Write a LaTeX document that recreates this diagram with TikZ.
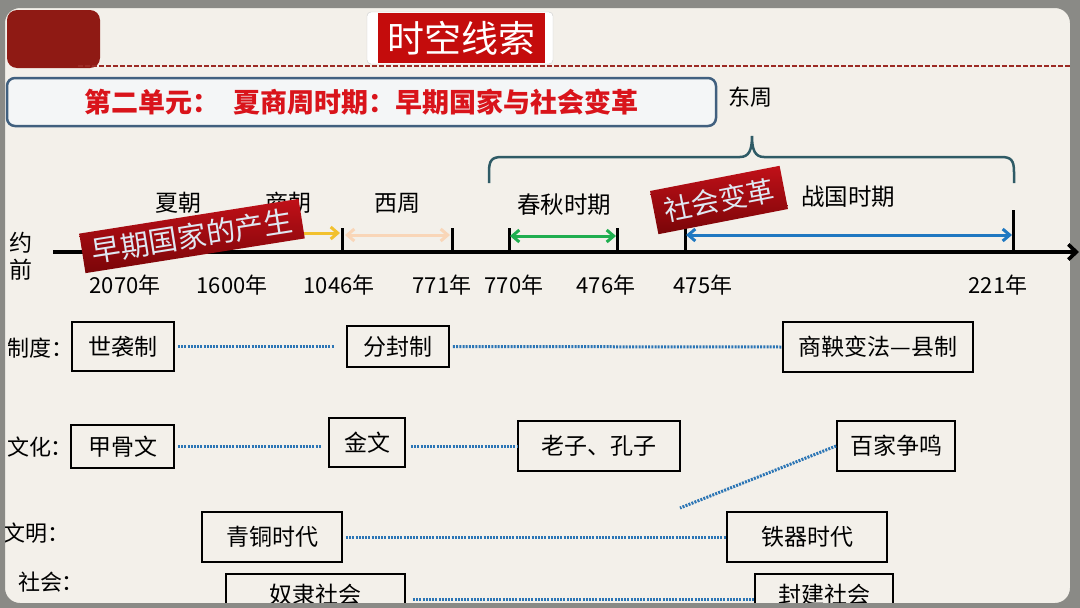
\documentclass[tikz,border=0pt]{standalone}
\usepackage{fontspec}
\setmainfont{Noto Sans CJK SC}
\usepackage{tikz}
\usetikzlibrary{arrows.meta,positioning}
\definecolor{paper}{RGB}{243,240,234}
\definecolor{framegray}{RGB}{138,138,134}
\definecolor{cornerred}{RGB}{143,26,20}
\definecolor{titlered}{RGB}{196,12,12}
\definecolor{dashred}{RGB}{155,42,36}
\definecolor{unitred}{RGB}{217,20,27}
\definecolor{unitblue}{RGB}{65,96,127}
\definecolor{unitfill}{RGB}{244,246,247}
\definecolor{bracecol}{RGB}{47,91,102}
\definecolor{bantop}{RGB}{192,16,24}
\definecolor{banbot}{RGB}{122,5,8}
\definecolor{banlight}{RGB}{223,232,242}
\definecolor{shangyellow}{RGB}{242,193,46}
\definecolor{xizhoupeach}{RGB}{249,214,184}
\definecolor{chunqiugreen}{RGB}{31,174,79}
\definecolor{zhanguoblue}{RGB}{31,120,193}
\definecolor{dotblue}{RGB}{43,117,181}

\begin{document}
\begin{tikzpicture}[x=1pt,y=-1pt,
  box/.style={draw=black,line width=1.8pt,fill=paper,inner sep=0pt,font=\fontsize{23}{26}\selectfont},
  link/.style={draw=dotblue,line width=3pt,dash pattern=on 2pt off 1.2pt},
  lab/.style={font=\fontsize{22}{26}\selectfont},
  yearlab/.style={font=\fontsize{22}{26}\selectfont},
  banner/.style={top color=bantop,bottom color=banbot,text=banlight,inner sep=0pt},
  period/.style={line width=3pt,arrows={-Straight Barb[length=7pt,width=12pt]}},
  both/.style={arrows={Straight Barb[length=7pt,width=12pt]-Straight Barb[length=7pt,width=12pt]}},
  axisline/.style={line width=3.5pt,arrows={-Straight Barb[length=8pt,width=15pt]}},
  tick/.style={line width=3pt}]
  \useasboundingbox (0,0) rectangle (1080,608);
  % Paper
  \fill[paper] (0,0) rectangle (1080,608);
  \fill[cornerred,rounded corners=10pt] (7,10) rectangle (100,68);
  \draw[dashred,line width=2.5pt,dash pattern=on 5pt off 2pt] (78,66) -- (1070,66);
  % Title
  \node[fill=white,draw=gray!40,rounded corners=4pt,minimum width=186,minimum height=52] (titlebg) at (460,38) {};
  \node[fill=titlered,text=white,minimum width=167,minimum height=50,font=\fontsize{37}{40}\selectfont] (title) at (461.5,38) {时空线索};
  % Unit heading
  \node[draw=unitblue,line width=2.5pt,fill=unitfill,rounded corners=8pt,minimum width=709,minimum height=48,
    text=unitred,font=\fontsize{27}{30}\selectfont\bfseries] (unit) at (361.5,102) {第二单元：\hspace{0.5em}夏商周时期：早期国家与社会变革};
  \node[lab] (dongzhou) at (750,97) {东周};
  % Brace over Eastern Zhou
  \coordinate (bl) at (489,183);
  \coordinate (btip) at (752,136);
  \coordinate (br) at (1014,183);
  \draw[bracecol,line width=2.5pt] (bl) -- (489,172) .. controls (489,160) and (492,157) .. (502,157)
    -- (740,157) .. controls (749,157) and (752,150) .. (btip)
    .. controls (752,150) and (755,157) .. (764,157) -- (1001,157)
    .. controls (1011,157) and (1014,160) .. (1014,172) -- (br);
  % Timeline
  \node[font=\fontsize{23}{26}\selectfont] (yue) at (21,243) {约};
  \node[font=\fontsize{23}{26}\selectfont] (qian) at (21,270) {前};
  \coordinate (axs) at (53,252);
  \coordinate (axe) at (1079,252);
  \draw[axisline] (axs) -- (axe);
  \foreach \x/\nm in {342/t1046,452/t771,509/t770,617/t476,685/t475} {
    \coordinate (\nm) at (\x,252);
    \draw[tick] (\x,228) -- (\nm);
  }
  \coordinate (t221) at (1013,252);
  \draw[tick] (1013,210) -- (t221);
  \coordinate (t1600) at (238,252);
  % Years
  \foreach \x/\lab in {125/2070,232/1600,339/1046,442/771,514/770,606/476,703/475,998/221} {
    \node[yearlab] (y\lab) at (\x,285) {\lab 年};
  }
  % Dynasties
  \node[lab,font=\fontsize{23}{26}\selectfont] (xia) at (178,203) {夏朝};
  \node[lab,font=\fontsize{23}{26}\selectfont] (shang) at (288,203) {商朝};
  \node[lab,font=\fontsize{23}{26}\selectfont] (xizhou) at (397,203) {西周};
  \node[lab,font=\fontsize{23.5}{26}\selectfont] (chunqiu) at (564,205) {春秋时期};
  \node[lab,font=\fontsize{23.5}{26}\selectfont] (zhanguo) at (848,197) {战国时期};
  \draw[period,shangyellow] ([yshift=19pt]t1600) -- ([xshift=-2pt,yshift=19pt]t1046);
  \draw[period,both,xizhoupeach] ([xshift=3pt,yshift=17pt]t1046) -- ([xshift=-2pt,yshift=17pt]t771);
  \draw[period,both,chunqiugreen] ([xshift=1pt,yshift=16pt]t770) -- ([xshift=-1pt,yshift=16pt]t476);
  \draw[period,both,zhanguoblue] ([xshift=1pt,yshift=17pt]t475) -- ([xshift=-1pt,yshift=17pt]t221);
  % Banners
  \node[banner,rotate=9,minimum width=222,minimum height=40,font=\fontsize{29}{32}\selectfont] (zaoqi) at (192,236) {早期国家的产生};
  \node[banner,rotate=11,minimum width=132,minimum height=44,font=\fontsize{28}{32}\selectfont] (biange) at (719,200) {社会变革};
  % Rows
  \node[lab] (zhidu) at (41,348) {制度：};
  \node[lab] (wenhua) at (40,447) {文化：};
  \node[lab] (wenming) at (37,533) {文明：};
  \node[lab] (shehui) at (51,582) {社会：};
  \node[box,minimum width=102,minimum height=49] (shixi) at (123,346.5) {世袭制};
  \node[box,minimum width=102,minimum height=41] (fenfeng) at (398,346.5) {分封制};
  \node[box,minimum width=190,minimum height=50] (shangyang) at (878,347) {商鞅变法—县制};
  \node[box,minimum width=103,minimum height=43] (jiagu) at (122.5,446.5) {甲骨文};
  \node[box,minimum width=76,minimum height=49] (jinwen) at (367,442.5) {金文};
  \node[box,minimum width=162,minimum height=50] (laokong) at (599,446) {老子、孔子};
  \node[box,minimum width=118,minimum height=50] (baijia) at (896,446) {百家争鸣};
  \node[box,minimum width=140,minimum height=50] (qingtong) at (272,537) {青铜时代};
  \node[box,minimum width=160,minimum height=50] (tieqi) at (807,537) {铁器时代};
  \node[box,minimum width=179,minimum height=50,text depth=10pt] (nuli) at (315.5,599) {奴隶社会};
  \node[box,minimum width=138,minimum height=50,text depth=10pt] (fengjian) at (824,599) {封建社会};
  % Dotted links
  \coordinate (bjend) at (680,508);
  \draw[link,shorten <=3pt,shorten >=12pt] (shixi.east) -- (fenfeng.west |- shixi.east);
  \draw[link,shorten <=3pt] (fenfeng.east) -- (shangyang.west);
  \draw[link,shorten <=3pt,shorten >=7pt] (jiagu.east) -- (jinwen.west |- jiagu.east);
  \draw[link,shorten <=5pt] (jinwen.east |- laokong.west) -- (laokong.west);
  \draw[link] (baijia.west) -- (bjend);
  \draw[link,shorten <=3pt] (qingtong.east) -- (tieqi.west);
  \draw[link,shorten <=7pt] (nuli.east) -- (fengjian.west);
  % Frame
  \fill[framegray,even odd rule] (0,0) rectangle (1080,608) {[rounded corners=15pt] (5,8) rectangle (1070,603)};
  % Arrow tip over the frame
  \draw[axisline] (1050,252) -- (axe);
\end{tikzpicture}
\end{document}
